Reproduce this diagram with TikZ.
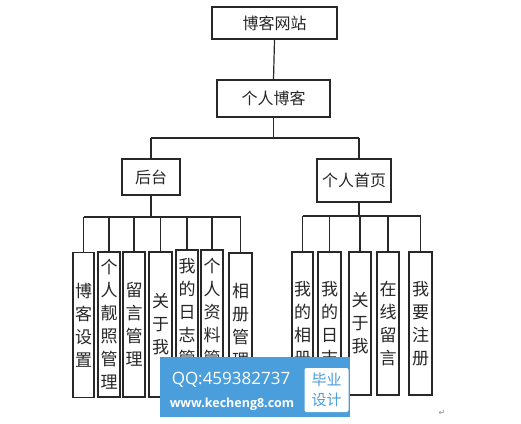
\documentclass[tikz,border=0pt]{standalone}
\usepackage{fontspec}
\newfontfamily\cjk{Noto Sans CJK SC}
\newfontfamily\wmfont{Open Sans}
\newfontfamily\symfont{DejaVu Sans}
\definecolor{wmblue}{RGB}{74,158,220}
\definecolor{linecol}{RGB}{40,40,40}
\tikzset{
  hbox/.style={draw=linecol, line width=1.2pt, rectangle, inner sep=0pt, font=\cjk\fontsize{16}{18}\selectfont, text=black!85},
  vbox/.style={draw=linecol, line width=1.2pt, rectangle, inner sep=0pt, align=center, font=\cjk\fontsize{17}{23}\selectfont, text=black!85, minimum height=145pt},
  conn/.style={draw=linecol, line width=1.2pt},
  wmtext/.style={text=white, inner sep=0pt}
}
\begin{document}
\begin{tikzpicture}[x=1pt,y=-1pt]
\path[use as bounding box] (0,0) rectangle (521,423);
% top level
\node[hbox, minimum width=125pt, minimum height=32pt] (site) at (274.5,23) {博客网站};
\node[hbox, minimum width=113pt, minimum height=37pt] (blog) at (273.5,98.5) {个人博客};
\node[hbox, minimum width=58pt, minimum height=36pt] (back) at (151,177) {后台};
\node[hbox, minimum width=74pt, minimum height=43pt] (home) at (354,180.5) {个人首页};
\coordinate (ja) at (0,138);
\coordinate (jl) at (0,217);
\coordinate (jr) at (0,216);
\draw[conn] (site.south) -- (blog.north);
\draw[conn] (blog.south) -- (blog.south |- ja);
\draw[conn] (back.north |- ja) -- ([xshift=5pt]home.north |- ja);
\draw[conn] (back.north |- ja) -- (back.north);
\draw[conn] ([xshift=5pt]home.north |- ja) -- ([xshift=5pt]home.north);
% left group
\node[vbox, minimum width=21pt] (l1) at (83.5,325) {博\\客\\设\\置};
\node[vbox, minimum width=22pt] (l2) at (109,324.5) {个\\人\\靓\\照\\管\\理};
\node[vbox, minimum width=22pt] (l3) at (134,324.5) {留\\言\\管\\理};
\node[vbox, minimum width=23pt] (l4) at (160.5,324.5) {关\\于\\我};
\node[vbox, minimum width=22pt, minimum height=147pt] (l5) at (187,323.5) {我\\的\\日\\志\\管\\理};
\node[vbox, minimum width=22pt, minimum height=147pt] (l6) at (212,323.5) {个\\人\\资\\料\\管\\理};
\node[vbox, minimum width=23pt, minimum height=144pt] (l7) at (240.5,325) {相\\册\\管\\理};
\draw[conn] (back.south) -- (back.south |- jl);
\draw[conn] (l1.north |- jl) -- (l7.north |- jl);
\foreach \n in {l1,l2,l3,l4,l5,l6,l7} \draw[conn] (\n.north |- jl) -- (\n.north);
% right group
\node[vbox, minimum width=21pt, minimum height=143pt] (r1) at (302.5,323.5) {我\\的\\相\\册};
\node[vbox, minimum width=23pt, minimum height=143pt] (r2) at (329.5,323.5) {我\\的\\日\\志};
\node[vbox, minimum width=22pt, minimum height=143pt] (r3) at (360,323.5) {关\\于\\我};
\node[vbox, minimum width=22pt, minimum height=143pt] (r4) at (388,323.5) {在\\线\\留\\言};
\node[vbox, minimum width=23pt, minimum height=143pt] (r5) at (420.5,323.5) {我\\要\\注\\册};
\draw[conn] ([xshift=5pt]home.south) -- ([xshift=5pt]home.south |- jr);
\draw[conn] (r1.north |- jr) -- (r5.north |- jr);
\foreach \n in {r1,r2,r3,r4,r5} \draw[conn] (\n.north |- jr) -- (\n.north);
% paragraph mark
\node[text=black!45, font=\symfont\fontsize{8}{9}\selectfont, inner sep=0pt] (pm) at (442,413) {↵};
% watermark
\node[fill=wmblue, minimum width=190pt, minimum height=60pt, inner sep=0pt] (wm) at (255,387) {};
\node[fill=white, rounded corners=2pt, minimum width=44pt, minimum height=44pt, inner sep=0pt, align=center, text=wmblue, font=\cjk\fontsize{15}{20}\selectfont] (bysj) at (326.5,390) {毕业\\设计};
\node[wmtext, font=\wmfont\fontsize{17}{19}\selectfont] (qq) at (231,380) {QQ:459382737};
\node[wmtext, font=\wmfont\bfseries\fontsize{12.5}{14}\selectfont] (www) at (232,404) {www.kecheng8.com};
\end{tikzpicture}
\end{document}
